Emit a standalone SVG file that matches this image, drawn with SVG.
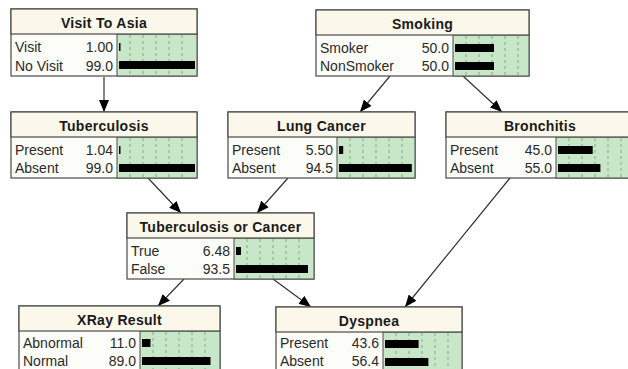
<svg xmlns="http://www.w3.org/2000/svg" width="628" height="369" viewBox="0 0 628 369">
  <style>
    .box { fill: #fcfcf8; stroke: #4a4a4a; stroke-width: 1.2; }
    .head { fill: #fbf7ea; stroke: #4a4a4a; stroke-width: 1.2; }
    .barbg { fill: #c8e7c8; stroke: #4a4a4a; stroke-width: 1; }
    .tick { stroke: #7fae7f; stroke-width: 1; stroke-dasharray: 3 3; }
    .bar { fill: #000; }
    .title { font-family: "Liberation Sans", Arial, sans-serif; font-size: 14px; font-weight: bold; fill: #1a1a1a; text-anchor: middle; letter-spacing: 0.3px; }
    .state { font-family: "Liberation Sans", Arial, sans-serif; font-size: 14px; fill: #2a2a2a; }
    .num { font-family: "Liberation Sans", Arial, sans-serif; font-size: 14px; fill: #2a2a2a; text-anchor: end; }
    .link { stroke: #333; stroke-width: 1.2; fill: none; marker-end: url(#arrow); }
  </style>
  <defs>
    <marker id="arrow" viewBox="0 0 12 10" refX="12" refY="5" markerWidth="12" markerHeight="10" markerUnits="userSpaceOnUse" orient="auto">
      <path d="M0,0 L12,5 L0,10 Z" fill="#000"/>
    </marker>
    <!-- dashed graduation lines of a belief bar, origin at the bar column divider -->
    <g id="ticks">
      <line class="tick" x1="13" y1="26" x2="13" y2="66"/>
      <line class="tick" x1="26" y1="26" x2="26" y2="66"/>
      <line class="tick" x1="39" y1="26" x2="39" y2="66"/>
      <line class="tick" x1="52" y1="26" x2="52" y2="66"/>
      <line class="tick" x1="65" y1="26" x2="65" y2="66"/>
    </g>
  </defs>

  <!-- connectors -->
  <g id="links">
    <line class="link" x1="104" y1="77" x2="104" y2="112"/>
    <line class="link" x1="390" y1="76" x2="360" y2="112"/>
    <line class="link" x1="463" y1="76" x2="502" y2="112"/>
    <line class="link" x1="148" y1="178" x2="181" y2="213"/>
    <line class="link" x1="288" y1="178" x2="257" y2="213"/>
    <line class="link" x1="184" y1="279" x2="158" y2="306"/>
    <line class="link" x1="273" y1="279" x2="311" y2="307"/>
    <line class="link" x1="510" y1="178" x2="405" y2="307"/>
  </g>

  <!-- Visit To Asia -->
  <g id="visit" transform="translate(11,9)">
    <rect class="box" x="0" y="0" width="186" height="67"/>
    <rect class="barbg" x="106" y="25" width="80" height="42"/>
    <use href="#ticks" x="106"/>
    <rect class="head" x="0" y="0" width="186" height="25"/>
    <text class="title" x="93" y="19">Visit To Asia</text>
    <text class="state" x="4" y="43">Visit</text>
    <text class="num" x="102" y="43">1.00</text>
    <text class="state" x="4" y="62">No Visit</text>
    <text class="num" x="102" y="62">99.0</text>
    <rect class="bar" x="108" y="34" width="1.5" height="8"/>
    <rect class="bar" x="108" y="52" width="76" height="8"/>
  </g>

  <!-- Smoking -->
  <g id="smoking" transform="translate(316,10)">
    <rect class="box" x="0" y="0" width="213" height="66"/>
    <rect class="barbg" x="137" y="25" width="76" height="41"/>
    <use href="#ticks" x="137"/>
    <rect class="head" x="0" y="0" width="213" height="25"/>
    <text class="title" x="106.5" y="19">Smoking</text>
    <text class="state" x="4" y="43">Smoker</text>
    <text class="num" x="133" y="43">50.0</text>
    <text class="state" x="4" y="61">NonSmoker</text>
    <text class="num" x="133" y="61">50.0</text>
    <rect class="bar" x="139" y="34" width="39" height="8"/>
    <rect class="bar" x="139" y="52" width="39" height="8"/>
  </g>

  <!-- Tuberculosis -->
  <g id="tuberculosis" transform="translate(11,112)">
    <rect class="box" x="0" y="0" width="186" height="66"/>
    <rect class="barbg" x="106" y="25" width="80" height="41"/>
    <use href="#ticks" x="106"/>
    <rect class="head" x="0" y="0" width="186" height="25"/>
    <text class="title" x="93" y="19">Tuberculosis</text>
    <text class="state" x="4" y="43">Present</text>
    <text class="num" x="102" y="43">1.04</text>
    <text class="state" x="4" y="61">Absent</text>
    <text class="num" x="102" y="61">99.0</text>
    <rect class="bar" x="108" y="34" width="1.5" height="8"/>
    <rect class="bar" x="108" y="52" width="76" height="8"/>
  </g>

  <!-- Lung Cancer -->
  <g id="lungcancer" transform="translate(228,112)">
    <rect class="box" x="0" y="0" width="187" height="66"/>
    <rect class="barbg" x="109" y="25" width="78" height="41"/>
    <use href="#ticks" x="109"/>
    <rect class="head" x="0" y="0" width="187" height="25"/>
    <text class="title" x="93.5" y="19">Lung Cancer</text>
    <text class="state" x="4" y="43">Present</text>
    <text class="num" x="105" y="43">5.50</text>
    <text class="state" x="4" y="61">Absent</text>
    <text class="num" x="105" y="61">94.5</text>
    <rect class="bar" x="111" y="34" width="4.2" height="8"/>
    <rect class="bar" x="111" y="52" width="72.8" height="8"/>
  </g>

  <!-- Bronchitis -->
  <g id="bronchitis" transform="translate(446,112)">
    <rect class="box" x="0" y="0" width="188" height="66"/>
    <rect class="barbg" x="110" y="25" width="78" height="41"/>
    <use href="#ticks" x="110"/>
    <rect class="head" x="0" y="0" width="188" height="25"/>
    <text class="title" x="94" y="19">Bronchitis</text>
    <text class="state" x="4" y="43">Present</text>
    <text class="num" x="106" y="43">45.0</text>
    <text class="state" x="4" y="61">Absent</text>
    <text class="num" x="106" y="61">55.0</text>
    <rect class="bar" x="112" y="34" width="34.7" height="8"/>
    <rect class="bar" x="112" y="52" width="42.4" height="8"/>
  </g>

  <!-- Tuberculosis or Cancer -->
  <g id="tborca" transform="translate(127,213)">
    <rect class="box" x="0" y="0" width="187" height="66"/>
    <rect class="barbg" x="107" y="25" width="80" height="41"/>
    <use href="#ticks" x="107"/>
    <rect class="head" x="0" y="0" width="187" height="25"/>
    <text class="title" x="93.5" y="19">Tuberculosis or Cancer</text>
    <text class="state" x="4" y="43">True</text>
    <text class="num" x="103" y="43">6.48</text>
    <text class="state" x="4" y="61">False</text>
    <text class="num" x="103" y="61">93.5</text>
    <rect class="bar" x="109" y="34" width="5" height="8"/>
    <rect class="bar" x="109" y="52" width="72" height="8"/>
  </g>

  <!-- XRay Result (runs off the bottom edge) -->
  <g id="xray" transform="translate(19,306)">
    <rect class="box" x="0" y="0" width="201" height="66"/>
    <rect class="barbg" x="121" y="25" width="80" height="41"/>
    <use href="#ticks" x="121"/>
    <rect class="head" x="0" y="0" width="201" height="25"/>
    <text class="title" x="100.5" y="19">XRay Result</text>
    <text class="state" x="4" y="42">Abnormal</text>
    <text class="num" x="117" y="42">11.0</text>
    <text class="state" x="4" y="60">Normal</text>
    <text class="num" x="117" y="60">89.0</text>
    <rect class="bar" x="123" y="33" width="8.5" height="8"/>
    <rect class="bar" x="123" y="51" width="68.5" height="8"/>
  </g>

  <!-- Dyspnea (runs off the bottom edge) -->
  <g id="dyspnea" transform="translate(276,307)">
    <rect class="box" x="0" y="0" width="186" height="66"/>
    <rect class="barbg" x="107" y="25" width="79" height="41"/>
    <use href="#ticks" x="107"/>
    <rect class="head" x="0" y="0" width="186" height="25"/>
    <text class="title" x="93" y="19">Dyspnea</text>
    <text class="state" x="4" y="41">Present</text>
    <text class="num" x="103" y="41">43.6</text>
    <text class="state" x="4" y="59">Absent</text>
    <text class="num" x="103" y="59">56.4</text>
    <rect class="bar" x="109" y="33" width="33.6" height="8"/>
    <rect class="bar" x="109" y="51" width="43.4" height="8"/>
  </g>
</svg>
